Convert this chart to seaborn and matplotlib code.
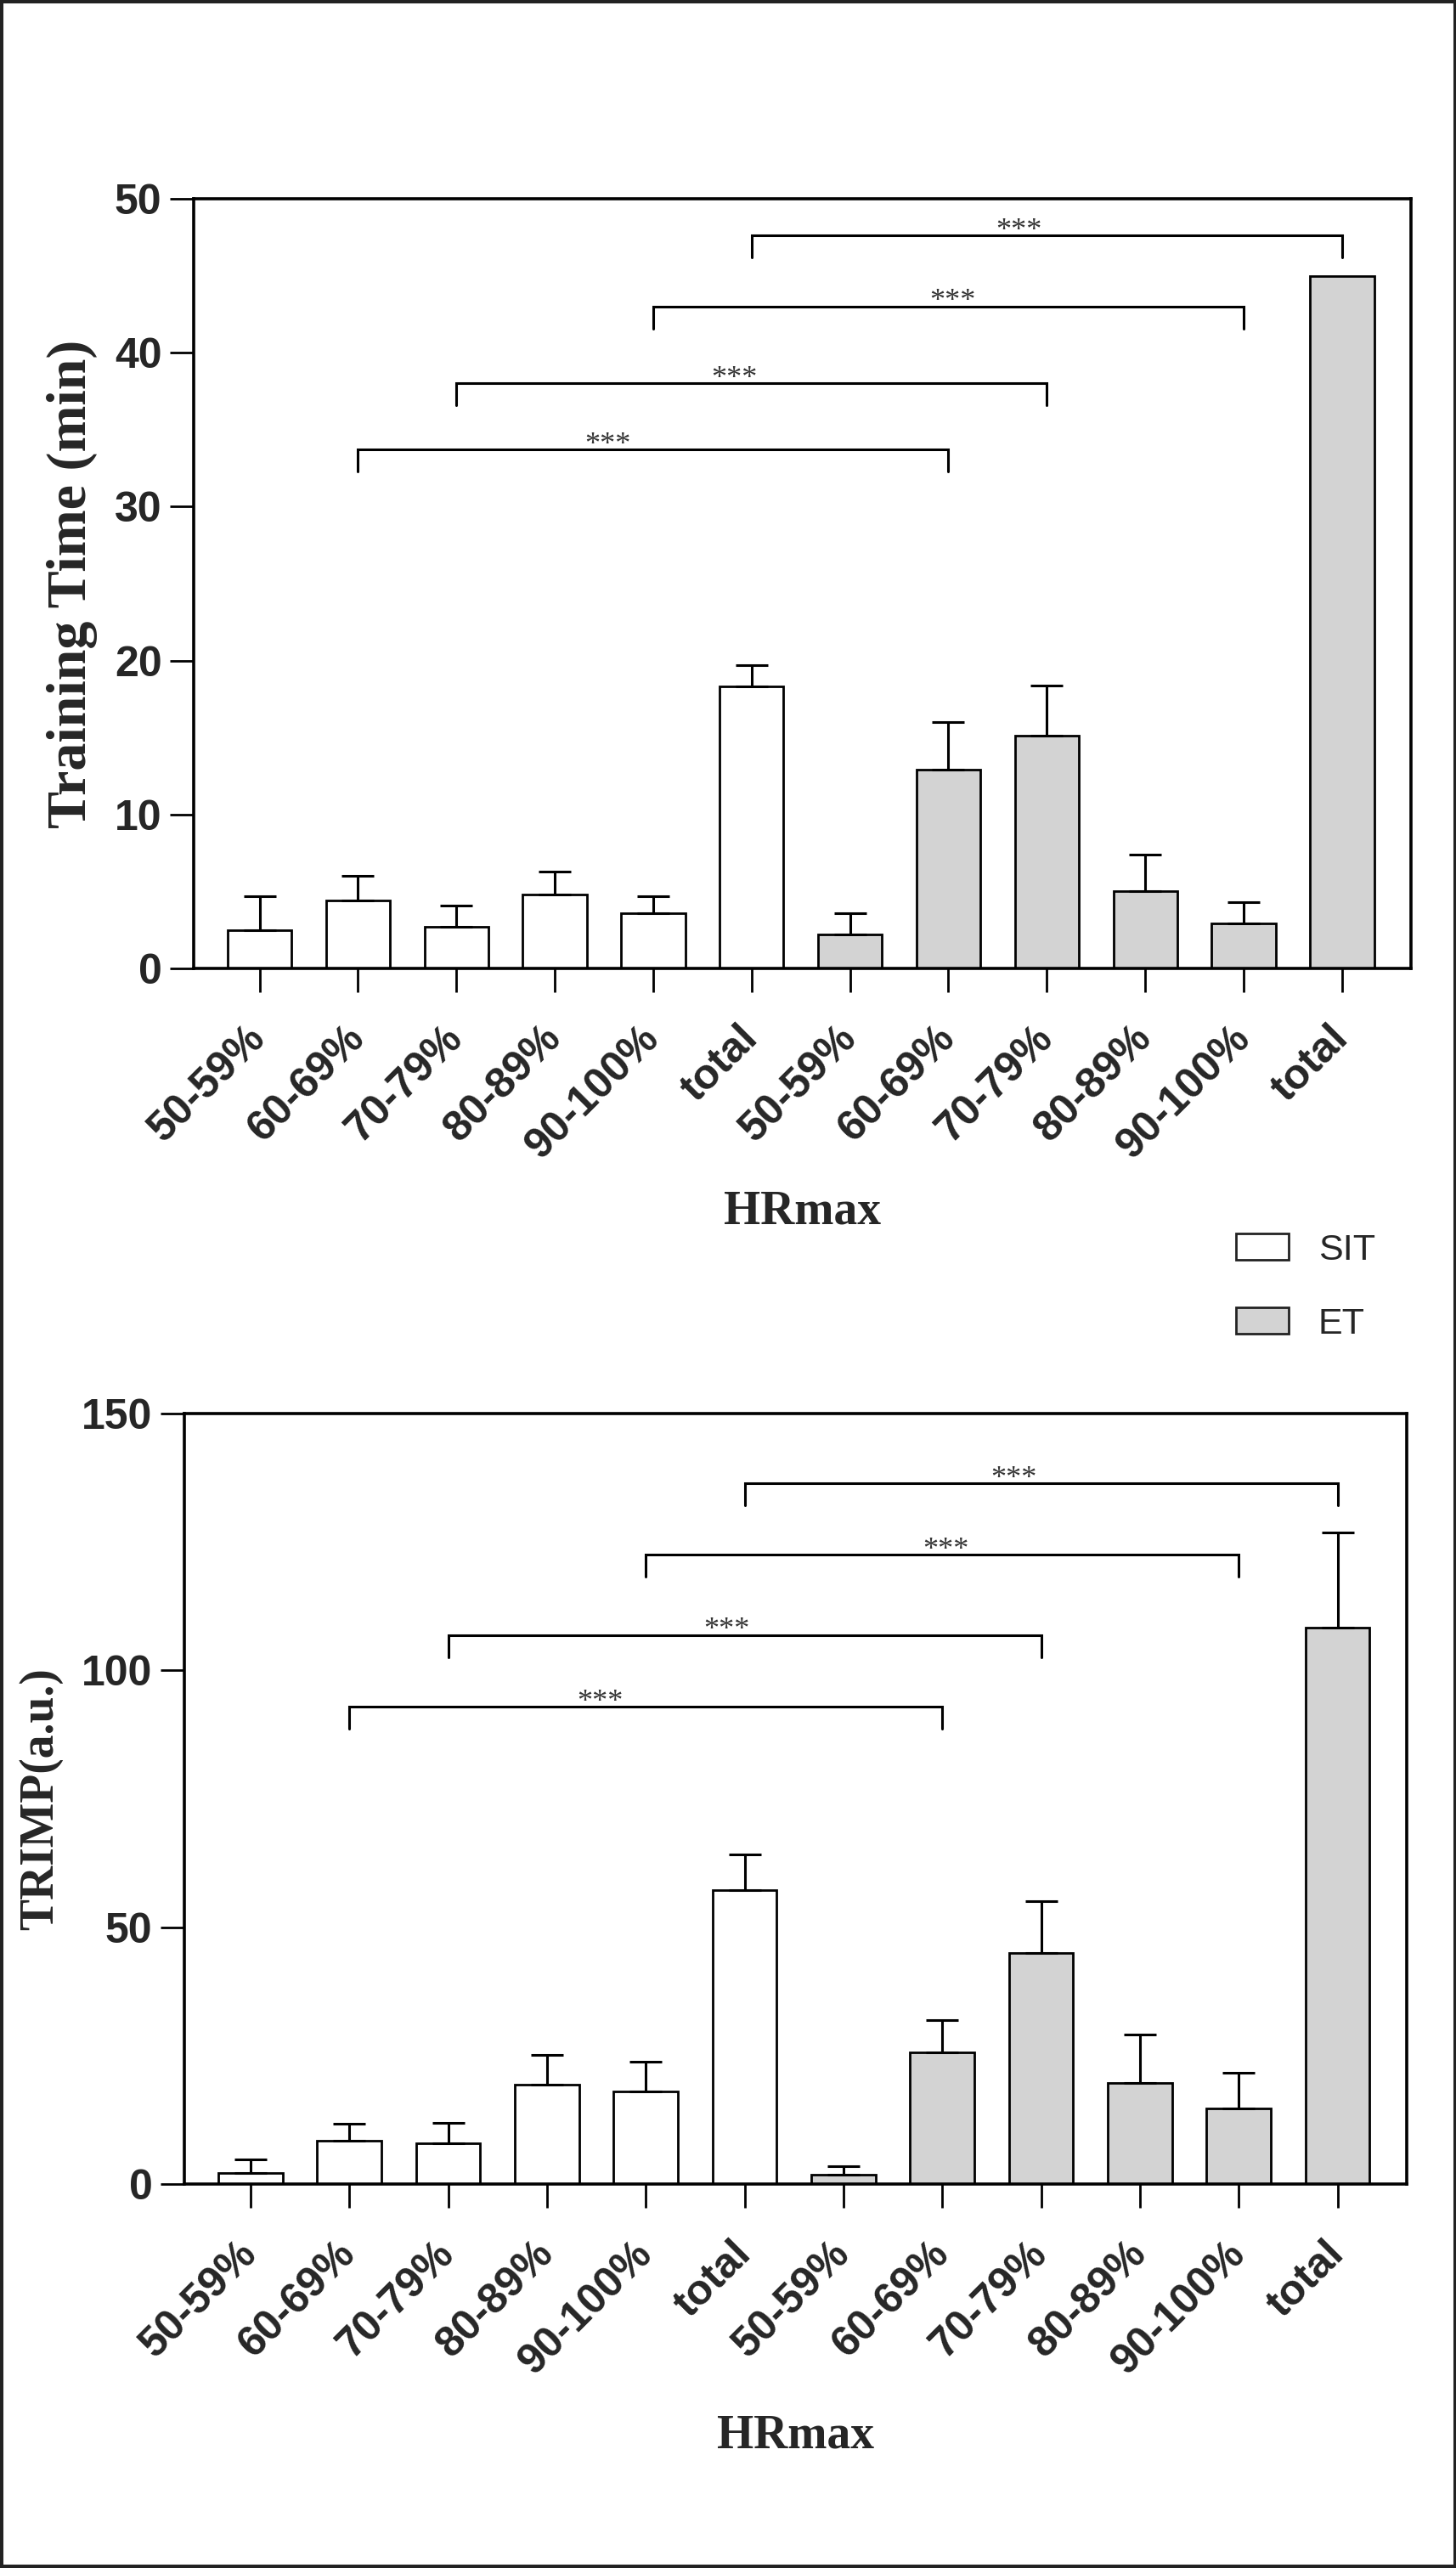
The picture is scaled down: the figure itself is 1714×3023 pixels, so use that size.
import numpy as np
import pandas as pd
import matplotlib.pyplot as plt
import seaborn as sns
from matplotlib.patches import Patch, Rectangle

# heart-rate zones, repeated for each training group
zones = ["50-59%", "60-69%", "70-79%", "80-89%", "90-100%", "total"]
groups = ["SIT", "ET"]

# training time (min), mean and upper SD
time_sit = [2.5, 4.4, 2.7, 4.8, 3.6, 18.3]
time_sit_err = [2.2, 1.6, 1.4, 1.5, 1.1, 1.4]
time_et = [2.2, 12.9, 15.1, 5.0, 2.9, 45.0]
time_et_err = [1.4, 3.1, 3.3, 2.4, 1.4, np.nan]

# TRIMP (a.u.)
trimp_sit = [2.2, 8.5, 7.9, 19.3, 18.0, 57.3]
trimp_sit_err = [2.6, 3.3, 4.1, 5.9, 5.8, 6.9]
trimp_et = [1.9, 25.6, 45.0, 19.7, 14.7, 108.4]
trimp_et_err = [1.6, 6.3, 10.1, 9.5, 7.0, 18.5]

# significance brackets: bar index pairs and bracket heights
comparisons = [(1, 7), (2, 8), (4, 10), (5, 11)]
sig_labels = ["***", "***", "***", "***"]
time_brackets = [33.7, 38.0, 43.0, 47.6]
trimp_brackets = [92.9, 106.9, 122.5, 136.4]

sns.set_style("ticks")
plt.rcParams["font.family"] = ["Liberation Sans", "DejaVu Sans"]

palette = {"SIT": "white", "ET": "lightgray"}
LW = 2.0


def make_frame(sit, sit_err, et, et_err):
    df = pd.DataFrame({
        "group": ["SIT"] * len(zones) + ["ET"] * len(zones),
        "zone": zones * 2,
        "value": sit + et,
        "err": sit_err + et_err,
    })
    df["key"] = df["group"] + " " + df["zone"]
    return df


def draw_panel(ax, df, brackets, ylim, yticks, ylabel, ylabel_size, ylabel_x, xlabel_y):
    order = list(df["key"])
    sns.barplot(data=df, x="key", y="value", hue="group", order=order,
                hue_order=groups, palette=palette, dodge=False, width=0.65,
                edgecolor="black", linewidth=LW, errorbar=None, legend=False,
                ax=ax)
    pos = np.arange(len(df))
    ok = df["err"].notna().values
    yerr = np.vstack([np.zeros(ok.sum()), df["err"].values[ok]])
    ax.errorbar(pos[ok], df["value"].values[ok], yerr=yerr, fmt="none",
                ecolor="black", elinewidth=2.2, capsize=14, capthick=2.2, zorder=3)

    drop = 0.0287 * (ylim[1] - ylim[0])
    label_x = [3.54, 4.82, 7.04, 7.72]
    for (a, b), h, s, tx in zip(comparisons, brackets, sig_labels, label_x):
        ax.plot([a, a, b, b], [h - drop, h, h, h - drop], color="black",
                lw=2.2, solid_joinstyle="miter", zorder=4)
        ax.annotate(s, (tx, h), xytext=(0, -2.5), textcoords="offset points",
                    ha="center", va="baseline", fontsize=26, color="#333333",
                    family="Liberation Serif")

    ax.set_xlim(-0.67, 11.70)
    ax.set_ylim(*ylim)
    ax.set_yticks(yticks)
    ax.set_xticks(pos)
    ax.set_xticklabels(zones * 2, rotation=45, ha="right", va="center",
                       rotation_mode="anchor")
    ax.tick_params(axis="both", direction="out", length=20, width=2,
                   labelsize=36, color="black")
    ax.tick_params(axis="x", pad=34)
    ax.tick_params(axis="y", pad=7)
    for lbl in ax.get_xticklabels() + ax.get_yticklabels():
        lbl.set_fontweight("bold")
    for sp in ax.spines.values():
        sp.set_visible(True)
        sp.set_linewidth(2.6)
        sp.set_color("black")

    ax.set_ylabel(ylabel, fontsize=ylabel_size, family="Liberation Serif",
                  fontweight="bold")
    ax.yaxis.set_label_coords(ylabel_x, 0.5)
    ax.set_xlabel("HRmax", fontsize=40, family="Liberation Serif",
                  fontweight="bold")
    ax.xaxis.set_label_coords(0.5, xlabel_y)


fig = plt.figure(figsize=(17.15, 30.23), dpi=100)
ax1 = fig.add_axes([0.1329, 0.6229, 0.8356, 0.2997])
ax2 = fig.add_axes([0.1265, 0.1495, 0.8391, 0.3000])

draw_panel(ax1, make_frame(time_sit, time_sit_err, time_et, time_et_err),
           time_brackets, (0, 50), [0, 10, 20, 30, 40, 50],
           "Training Time (min)", 47.5, -0.079, -0.288)
draw_panel(ax2, make_frame(trimp_sit, trimp_sit_err, trimp_et, trimp_et_err),
           trimp_brackets, (0, 150), [0, 50, 100, 150],
           "TRIMP(a.u.)", 40, -0.099, -0.298)

handles = [Patch(facecolor=palette[g], edgecolor="#222222", lw=2, label=g)
           for g in groups]
fig.legend(handles=handles, loc="upper left", bbox_to_anchor=(0.8484, 0.5198),
           frameon=False, prop={"family": "Liberation Sans", "size": 31},
           handlelength=1.44, handleheight=0.72, handletextpad=0.81,
           labelspacing=1.09, borderpad=0, borderaxespad=0)

fig.add_artist(Rectangle((0.0012, 0.0007), 0.9976, 0.9986,
                         transform=fig.transFigure, fill=False,
                         lw=2.9, ec="#222222"))

fig.savefig("out.png", dpi=100)
